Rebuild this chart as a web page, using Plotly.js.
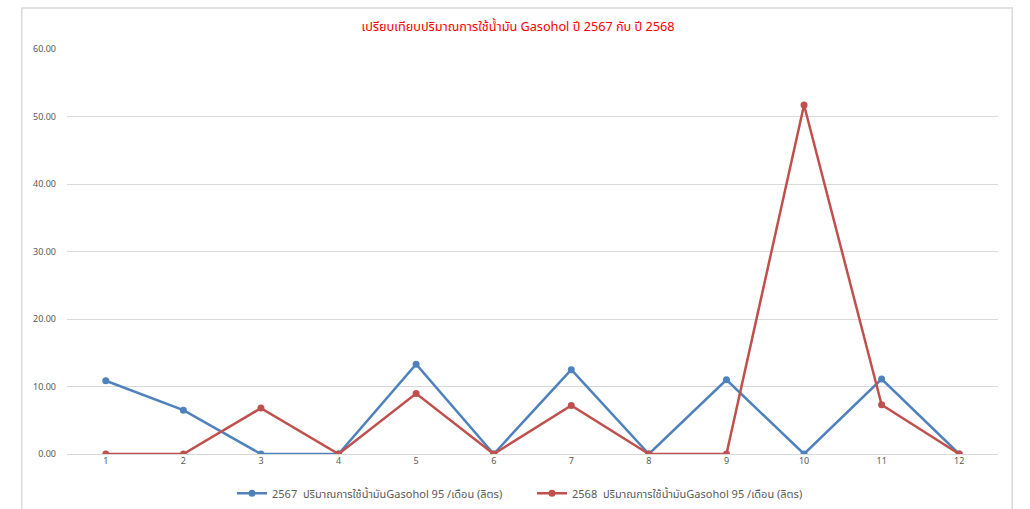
<!DOCTYPE html>
<html>
<head>
<meta charset="utf-8">
<script src="https://cdn.plot.ly/plotly-3.0.1.min.js"></script>
<style>
html,body{margin:0;padding:0;background:#fff;}
#chart{width:1030px;height:509px;}
</style>
</head>
<body>
<div id="chart"></div>
<script>
const months = ['1','2','3','4','5','6','7','8','9','10','11','12'];
const usage2567 = [10.85, 6.5, 0, 0, 13.3, 0, 12.5, 0, 11.0, 0, 11.1, 0];
const usage2568 = [0, 0, 6.8, 0, 8.95, 0, 7.2, 0, 0, 51.7, 7.3, 0];
const seriesNames = [
  '2567  ปริมาณการใช้น้ำมันGasohol 95 /เดือน (ลิตร)',
  '2568  ปริมาณการใช้น้ำมันGasohol 95 /เดือน (ลิตร)'
];
const titleText = 'เปรียบเทียบปริมาณการใช้น้ำมัน Gasohol ปี 2567 กับ ปี 2568';

const font = '"Noto Sans", "Noto Sans Thai", "Liberation Sans", sans-serif';

const traces = [
  {x: months, y: usage2567, name: seriesNames[0], type: 'scatter', mode: 'lines+markers',
   line: {color: '#4F81BD', width: 2.5}, marker: {color: '#4F81BD', size: 7}},
  {x: months, y: usage2568, name: seriesNames[1], type: 'scatter', mode: 'lines+markers',
   line: {color: '#C0504D', width: 2.5}, marker: {color: '#C0504D', size: 7}}
];

const layout = {
  width: 1030, height: 509,
  margin: {l: 67, r: 32, t: 49, b: 55, autoexpand: false},
  paper_bgcolor: '#ffffff', plot_bgcolor: '#ffffff',
  font: {family: font, color: '#595959', size: 9},
  title: {text: titleText, font: {family: font, color: '#FF0000', size: 12.7},
          x: 0.503, xanchor: 'center', y: 0.948, yanchor: 'middle'},
  xaxis: {type: 'category', range: [-0.5, 11.5], showgrid: false, zeroline: false,
          showline: false, ticks: '', tickfont: {size: 9, color: '#595959'}, fixedrange: true},
  yaxis: {range: [0, 60], dtick: 10, tickformat: '.2f', showgrid: true, gridcolor: '#D9D9D9',
          gridwidth: 1, zeroline: true, zerolinecolor: '#D9D9D9', zerolinewidth: 1,
          showline: false, ticks: '', ticklabelstandoff: 10, tickfont: {size: 9, color: '#595959'}},
  showlegend: true,
  legend: {orientation: 'h', x: 232 / 1030, xanchor: 'left', xref: 'container',
           y: 0.031, yanchor: 'middle', yref: 'container',
           entrywidth: 255, entrywidthmode: 'pixels',
           font: {size: 11, color: '#595959'}, tracegroupgap: 0},
  shapes: [
    {type: 'rect', xref: 'paper', yref: 'paper', x0: -0.0486, x1: 1.0153, y0: -0.2, y1: 1.101,
     line: {color: '#D9D9D9', width: 1.5}, fillcolor: 'rgba(0,0,0,0)', layer: 'below'}
  ]
};

Plotly.newPlot('chart', traces, layout, {displayModeBar: false, staticPlot: true});
</script>
</body>
</html>
